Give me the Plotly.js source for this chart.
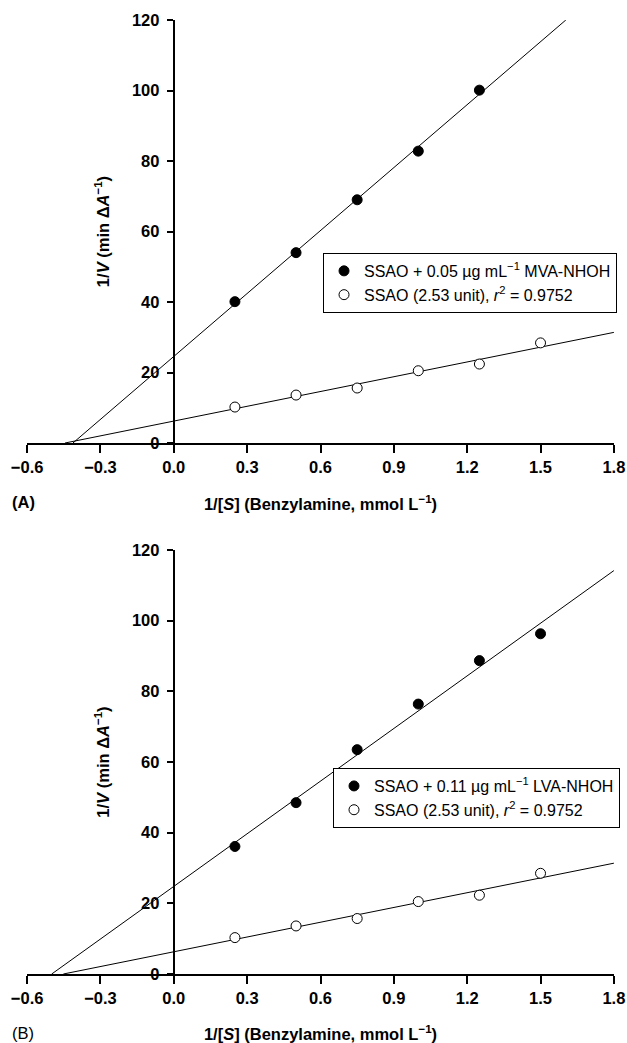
<!DOCTYPE html>
<html>
<head>
<meta charset="utf-8">
<script src="https://cdn.plot.ly/plotly-3.0.1.min.js"></script>
<style>html,body{margin:0;padding:0;background:#fff;}#chart{width:627px;height:1043px;}</style>
</head>
<body>
<div id="chart"></div>
<script>
// ---- data ----
const xA_inhib = [0.25, 0.5, 0.75, 1.0, 1.25];
const yA_inhib = [40.1, 54.0, 69.0, 82.8, 100.1];
const xA_ctrl = [0.25, 0.5, 0.75, 1.0, 1.25, 1.5];
const yA_ctrl = [10.2, 13.6, 15.6, 20.5, 22.4, 28.4];

const xB_inhib = [0.25, 0.5, 0.75, 1.0, 1.25, 1.5];
const yB_inhib = [36.1, 48.5, 63.5, 76.4, 88.7, 96.3];
const xB_ctrl = [0.25, 0.5, 0.75, 1.0, 1.25, 1.5];
const yB_ctrl = [10.3, 13.6, 15.7, 20.5, 22.3, 28.5];

const legendA = ["SSAO + 0.05 \u00b5g mL<sup>\u22121</sup> MVA-NHOH", "SSAO (2.53 unit), <i>r</i><sup>2</sup> = 0.9752"];
const legendB = ["SSAO + 0.11 \u00b5g mL<sup>\u22121</sup> LVA-NHOH", "SSAO (2.53 unit), <i>r</i><sup>2</sup> = 0.9752"];
const panelLabels = ["<b>(A)</b>", "(B)"];
const xTickVals = [-0.6, -0.3, 0.0, 0.3, 0.6, 0.9, 1.2, 1.5, 1.8];
const yTickVals = [0, 20, 40, 60, 80, 100, 120];
const xRange = [-0.6, 1.8];
const yRange = [0, 120];
const xTitle = "<b>1/[<i>S</i>] (Benzylamine, mmol L<sup>\u22121</sup>)</b>";
const yTitle = "<b>1/<i>V</i> (min \u0394<i>A</i><sup>\u22121</sup>)</b>";

// least-squares fit line, drawn from y = 0 up to the edge of the plot
function fitLine(xs, ys) {
  const n = xs.length;
  const mx = xs.reduce((a, b) => a + b, 0) / n;
  const my = ys.reduce((a, b) => a + b, 0) / n;
  let sxy = 0, sxx = 0;
  for (let i = 0; i < n; i++) { sxy += (xs[i] - mx) * (ys[i] - my); sxx += (xs[i] - mx) ** 2; }
  const m = sxy / sxx, b = my - m * mx;
  const x0 = -b / m;
  const x1 = Math.min(xRange[1], (yRange[1] - b) / m);
  return { x: [x0, x1], y: [m * x0 + b, m * x1 + b] };
}

const FONT = "Liberation Sans, Arial, sans-serif";
const filled = { symbol: "circle", size: 10, color: "#000", line: { color: "#000", width: 1 } };
const open = { symbol: "circle", size: 10, color: "#fff", line: { color: "#000", width: 1 } };
const lineStyle = { color: "#000", width: 1 };

function panel(xi, yi, xc, yc, names, xa, ya, leg) {
  const fi = fitLine(xi, yi), fc = fitLine(xc, yc);
  return [
    { x: fi.x, y: fi.y, mode: "lines", line: lineStyle, xaxis: xa, yaxis: ya, showlegend: false, hoverinfo: "skip" },
    { x: fc.x, y: fc.y, mode: "lines", line: lineStyle, xaxis: xa, yaxis: ya, showlegend: false, hoverinfo: "skip" },
    { x: xi, y: yi, mode: "markers", marker: filled, name: names[0], xaxis: xa, yaxis: ya, legend: leg, cliponaxis: false },
    { x: xc, y: yc, mode: "markers", marker: open, name: names[1], xaxis: xa, yaxis: ya, legend: leg, cliponaxis: false }
  ];
}

const data = [].concat(
  panel(xA_inhib, yA_inhib, xA_ctrl, yA_ctrl, legendA, "x", "y", "legend"),
  panel(xB_inhib, yB_inhib, xB_ctrl, yB_ctrl, legendB, "x2", "y2", "legend2")
);

function xAxis(anchor) {
  return {
    range: [xRange[0] - 0.0005, xRange[1] + 0.0005], anchor: anchor, domain: [0, 1],
    tickvals: xTickVals, tickformat: ".1f", ticks: "outside", ticklen: 8, tickwidth: 2, tickcolor: "#000",
    showline: true, linewidth: 2, linecolor: "#000", showgrid: false, zeroline: false,
    tickfont: { family: FONT, size: 16.5, color: "#000", weight: "bold" },
    title: { text: xTitle, font: { family: FONT, size: 16.5, color: "#000" }, standoff: 24 }
  };
}
function yAxis(domain) {
  return {
    range: yRange, anchor: "free", position: 0.25, domain: domain,
    tickvals: yTickVals, ticks: "outside", ticklen: 6, tickwidth: 2, tickcolor: "#000",
    showline: true, linewidth: 2, linecolor: "#000", showgrid: false, zeroline: false,
    ticklabelstandoff: 4,
    tickfont: { family: FONT, size: 16.5, color: "#000", weight: "bold" },
    title: { text: yTitle, font: { family: FONT, size: 16.5, color: "#000" }, standoff: 17 }
  };
}
function legendBox(x, y) {
  return {
    x: x, y: y, xanchor: "left", yanchor: "top", bgcolor: "#fff",
    bordercolor: "#000", borderwidth: 1, font: { family: FONT, size: 16, color: "#000" },
    tracegroupgap: 0, itemwidth: 30
  };
}

const layout = {
  width: 627, height: 1043,
  margin: { l: 27, r: 13, t: 20, b: 69, autoexpand: false },
  paper_bgcolor: "#fff", plot_bgcolor: "#fff",
  font: { family: FONT, color: "#000" },
  xaxis: xAxis("y"),
  yaxis: yAxis([0.5566, 1]),
  xaxis2: xAxis("y2"),
  yaxis2: yAxis([0, 0.4444]),
  legend: legendBox(0.5043, 0.7558),
  legend2: legendBox(0.5213, 0.2159),
  annotations: [
    { text: panelLabels[0], xref: "paper", yref: "paper", x: -0.029, y: 0.4948, xanchor: "left", yanchor: "middle", showarrow: false, font: { family: FONT, size: 16.5, color: "#000" } },
    { text: panelLabels[1], xref: "paper", yref: "paper", x: -0.029, y: -0.0618, xanchor: "left", yanchor: "middle", showarrow: false, font: { family: FONT, size: 16.5, color: "#000" } }
  ],
  showlegend: true
};

Plotly.newPlot("chart", data, layout, { staticPlot: true, displayModeBar: false });
</script>
</body>
</html>
